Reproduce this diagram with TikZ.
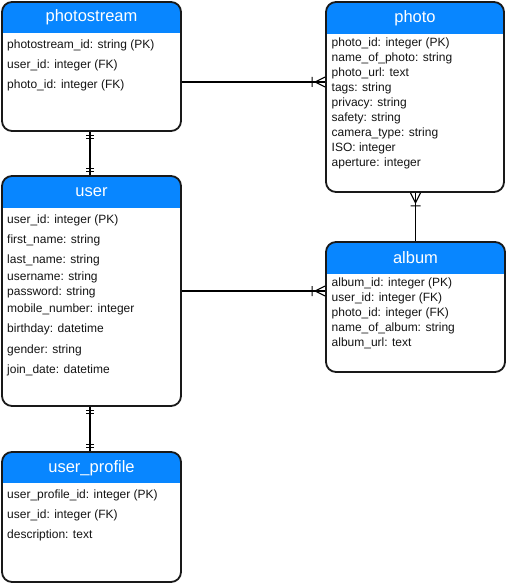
\documentclass[tikz,border=0pt]{standalone}
\usepackage{fontspec}
\setmainfont{Liberation Sans}
\definecolor{hdr}{RGB}{8,134,255}
\definecolor{edgec}{RGB}{25,25,25}
\definecolor{txt}{RGB}{20,20,20}
\tikzset{
  tbl/.style={draw=edgec, line width=1.8pt, rounded corners=10pt, fill=white, inner sep=0pt,
    path picture={\fill[hdr, sharp corners] ([yshift=2pt]path picture bounding box.north west) rectangle ([yshift=-#1]path picture bounding box.north east);}},
  ttl/.style={font=\fontsize{16.5}{18}\selectfont, text=white, inner sep=0pt},
  row/.style={anchor=mid west, font=\fontsize{12}{14}\selectfont, text=txt, inner sep=0pt, yshift=-1.8pt},
  conn/.style={draw=black, line width=1.1pt},
  many/.pic={\draw[conn] (-10,0) -- (0,-5) (-10,0) -- (0,5) (-13,-5) -- (-13,5);},
  onlyone/.pic={\draw[conn] (-4,-4) -- (-4,4) (-7,-4) -- (-7,4);}
}
\begin{document}
\begin{tikzpicture}[x=1pt,y=-1pt]
\useasboundingbox (0,0) rectangle (507,585);
% tables
\node[tbl=31pt, minimum width=179pt, minimum height=129pt] (photostream) at (91.5,66.5) {};
\node[tbl=32pt, minimum width=178pt, minimum height=190pt] (photo) at (415,97) {};
\node[tbl=32pt, minimum width=179pt, minimum height=230pt] (user) at (91.5,291) {};
\node[tbl=32pt, minimum width=179pt, minimum height=130pt] (album) at (415.5,307) {};
\node[tbl=31pt, minimum width=179pt, minimum height=130pt] (userprofile) at (91.5,517) {};
% titles
\node[ttl] (t-ps) at (91.5,17) {photostream};
\node[ttl] (t-photo) at (415,18) {photo};
\node[ttl] (t-user) at (91.5,192) {user};
\node[ttl] (t-album) at (415.5,258) {album};
\node[ttl] (t-up) at (91.5,468) {user\_profile};
% photostream rows
\node[row] (ps1) at (7,44) {photostream\_id: string (PK)};
\node[row] (ps2) at (7,64) {user\_id: integer (FK)};
\node[row] (ps3) at (7,84) {photo\_id: integer (FK)};
% photo rows
\node[row] (ph1) at (331.5,42) {photo\_id: integer (PK)};
\node[row] (ph2) at (331.5,57) {name\_of\_photo: string};
\node[row] (ph3) at (331.5,72) {photo\_url: text};
\node[row] (ph4) at (331.5,87) {tags: string};
\node[row] (ph5) at (331.5,102) {privacy: string};
\node[row] (ph6) at (331.5,117) {safety: string};
\node[row] (ph7) at (331.5,132) {camera\_type: string};
\node[row] (ph8) at (331.5,147) {ISO: integer};
\node[row] (ph9) at (331.5,162) {aperture: integer};
% user rows
\node[row] (u1) at (7,219) {user\_id: integer (PK)};
\node[row] (u2) at (7,239) {first\_name: string};
\node[row] (u3) at (7,259) {last\_name: string};
\node[row] (u4) at (7,276) {username: string};
\node[row] (u5) at (7,291) {password: string};
\node[row] (u6) at (7,308) {mobile\_number: integer};
\node[row] (u7) at (7,328) {birthday: datetime};
\node[row] (u8) at (7,349) {gender: string};
\node[row] (u9) at (7,369) {join\_date: datetime};
% album rows
\node[row] (a1) at (331.5,282) {album\_id: integer (PK)};
\node[row] (a2) at (331.5,297) {user\_id: integer (FK)};
\node[row] (a3) at (331.5,312) {photo\_id: integer (FK)};
\node[row] (a4) at (331.5,327) {name\_of\_album: string};
\node[row] (a5) at (331.5,342) {album\_url: text};
% user_profile rows
\node[row] (up1) at (7,494) {user\_profile\_id: integer (PK)};
\node[row] (up2) at (7,514) {user\_id: integer (FK)};
\node[row] (up3) at (7,534) {description: text};
% connectors
\coordinate (c-ps-s) at ([xshift=-1.5pt]photostream.south);
\draw[conn] (c-ps-s) -- (c-ps-s |- user.north);
\pic[rotate=90] at (c-ps-s) {onlyone};
\pic[rotate=-90] at (c-ps-s |- user.north) {onlyone};

\coordinate (c-ps-e) at ([yshift=-15.5pt]photostream.east);
\draw[conn] (c-ps-e) -- (c-ps-e -| photo.west);
\pic at (c-ps-e -| photo.west) {many};

\coordinate (c-al-n) at (album.north);
\draw[conn] (c-al-n) -- (c-al-n |- photo.south);
\pic[rotate=90] at (c-al-n |- photo.south) {many};

\coordinate (c-u-e) at (user.east);
\draw[conn] (c-u-e) -- (c-u-e -| album.west);
\pic at (c-u-e -| album.west) {many};

\coordinate (c-u-s) at ([xshift=-1.5pt]user.south);
\draw[conn] (c-u-s) -- (c-u-s |- userprofile.north);
\pic[rotate=90] at (c-u-s) {onlyone};
\pic[rotate=-90] at (c-u-s |- userprofile.north) {onlyone};
\end{tikzpicture}
\end{document}
